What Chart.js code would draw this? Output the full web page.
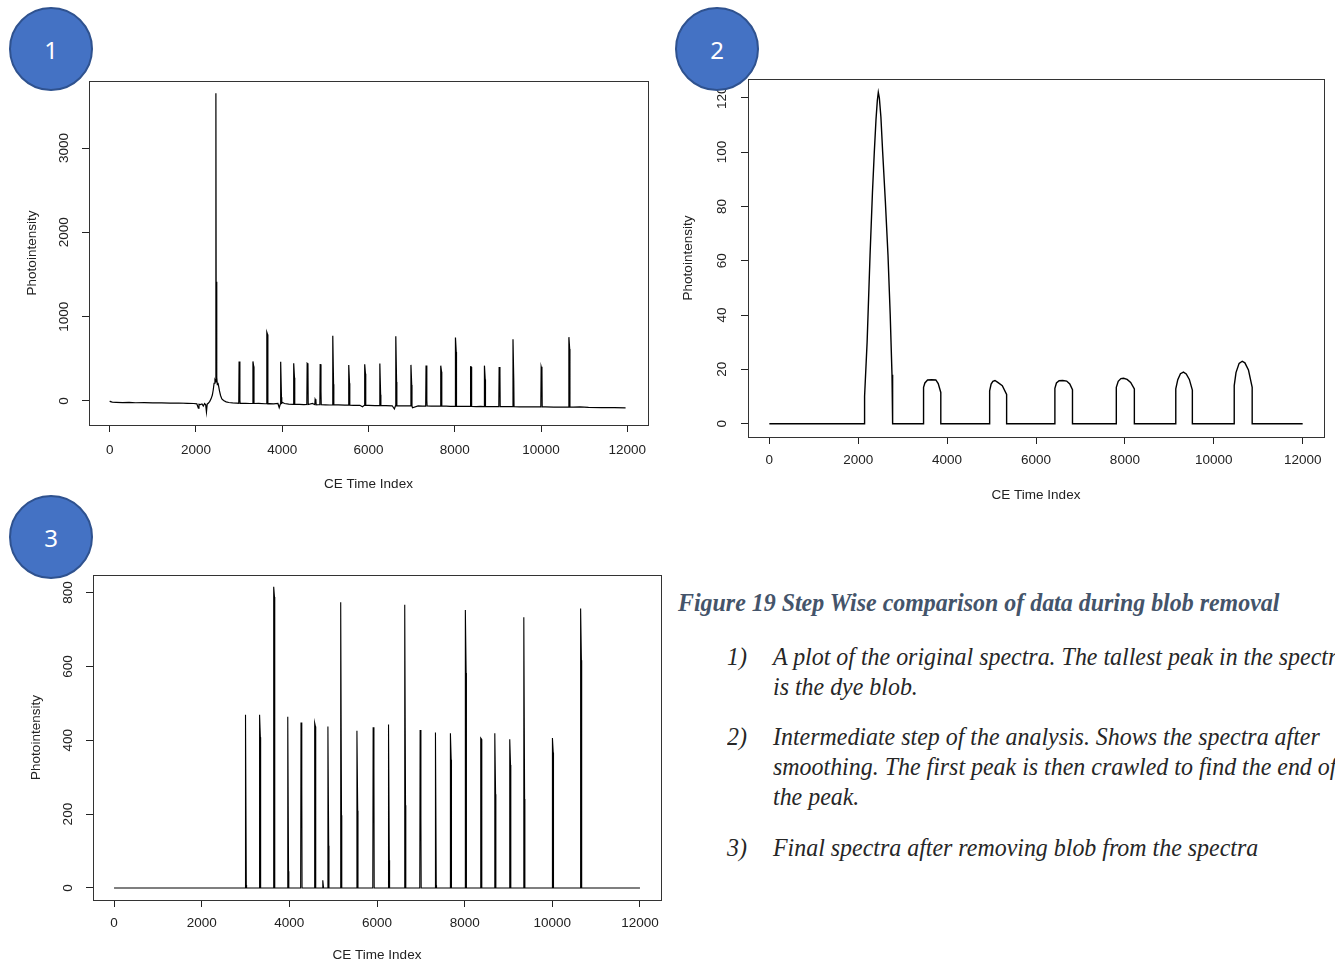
<!DOCTYPE html>
<html lang="en">
<head>
    <meta charset="UTF-8">
    <title>Figure 19 Step Wise comparison of data during blob removal</title>
    <script src="https://cdn.jsdelivr.net/npm/chart.js@4.4.1/dist/chart.umd.min.js"></script>
    <style>
        html, body { margin: 0; padding: 0; width: 1335px; height: 964px; overflow: hidden; background: #fff; }
        canvas { position: absolute; }
        .badge {
            position: absolute; width: 80px; height: 80px; border-radius: 50%;
            background: #4472C4; border: 2px solid #2F528F; color: #fff;
            font: 24px "Noto Sans", sans-serif; display: flex; align-items: center; justify-content: center;
            z-index: 5;
        }
        .t {
            position: absolute; white-space: nowrap; font: italic 26px "Liberation Serif", "Times New Roman", serif;
            line-height: 30px; color: #262626; transform: scaleX(0.92); transform-origin: 0 0;
        }
        .cap { font-weight: bold; color: #44546A; }
    </style>
</head>
<body>
    <canvas id="plot1" width="660" height="430" style="left:0px;top:70px"></canvas>
    <canvas id="plot2" width="670" height="460" style="left:665px;top:60px"></canvas>
    <canvas id="plot3" width="670" height="404" style="left:0px;top:560px"></canvas>

    <div class="badge" style="left:9px;top:7px">1</div>
    <div class="badge" style="left:675px;top:7px">2</div>
    <div class="badge" style="left:9px;top:495px">3</div>

    <div class="t cap" style="left:678px;top:588px">Figure 19 Step Wise comparison of data during blob removal</div>
    <div class="t" style="left:727px;top:642px">1)</div>
    <div class="t" style="left:773px;top:642px">A plot of the original spectra. The tallest peak in the spectra</div>
    <div class="t" style="left:773px;top:672px">is the dye blob.</div>
    <div class="t" style="left:727px;top:722px">2)</div>
    <div class="t" style="left:773px;top:722px">Intermediate step of the analysis. Shows the spectra after</div>
    <div class="t" style="left:773px;top:752px">smoothing. The first peak is then crawled to find the end of</div>
    <div class="t" style="left:773px;top:782px">the peak.</div>
    <div class="t" style="left:727px;top:833px">3)</div>
    <div class="t" style="left:773px;top:833px">Final spectra after removing blob from the spectra</div>

    <script>
        // Tick labels
        const xTicks = [0, 2000, 4000, 6000, 8000, 10000, 12000];
        const yTicks1 = [0, 1000, 2000, 3000];
        const yTicks2 = [0, 20, 40, 60, 80, 100, 120];
        const yTicks3 = [0, 200, 400, 600, 800];

        // Fragment peaks (shared by plot 1 and plot 3)
        const peakX = [3000, 3321, 3643, 3964, 4266, 4578, 4763, 4880, 5172, 5542, 5912, 6263,
                       6633, 6984, 7334, 7675, 8016, 8367, 8688, 9029, 9350, 10003, 10646];
        const peakTop = [469, 469, 816, 464, 448, 447, 21, 437, 774, 426, 435, 443,
                         767, 428, 421, 419, 753, 406, 419, 403, 733, 406, 757];
        const peakShoulder = [8, 408, 788, 45, 274, 437, 0, 114, 197, 209, 324, 75,
                              224, 190, 7, 347, 582, 403, 254, 333, 241, 367, 617];
        // baseline level under each peak in the raw spectrum (plot 1)
        const peakBase1 = [-28, -30, -33, -36, -40, -42, -44, -45, -47, -50, -52, -55,
                           -57, -58, -60, -61, -63, -64, -66, -67, -68, -71, -74];

        // Raw spectrum baseline (plot 1)
        const baseX1 = [0, 20, 60, 150, 300, 450, 600, 800, 1000, 1200, 1400, 1600, 1800, 1950, 2020, 2055,
                        2070, 2100, 2140, 2170, 2200, 2225, 2243, 2260, 2290, 2760, 2850, 2950, 3150, 3250,
                        3450, 3600, 3700, 3800, 3900, 3930, 3990, 4050, 4150, 4400, 4500, 4700, 4800, 5000,
                        5100, 5300, 5450, 5650, 5800, 5860, 6000, 6150, 6400, 6550, 6600, 6700, 6900, 7020,
                        7150, 7250, 7450, 7600, 7800, 7900, 8150, 8300, 8500, 8600, 8800, 8950, 9150, 9300,
                        9500, 9700, 9900, 10100, 10300, 10500, 10600, 10750, 10900, 11100, 11400, 11700, 11960];
        const baseY1 = [0, -8, -14, -16, -19, -17, -21, -20, -23, -22, -25, -24, -28, -30, -34, -85,
                        -38, -42, -35, -60, -30, -45, -130, -38, -25, -18, -22, -25, -27, -30,
                        -29, -33, -31, -35, -30, -80, -12, -30, -38, -40, -43, -30, -45, -46,
                        -48, -47, -50, -52, -51, -68, -53, -55, -56, -57, -95, -57, -58, -80,
                        -59, -60, -61, -60, -62, -63, -63, -64, -66, -65, -67, -66, -68, -68,
                        -69, -70, -71, -71, -72, -73, -74, -74, -70, -76, -78, -80, -83];

        // Dye blob in the raw spectrum (plot 1)
        const blobX1 = [2320, 2350, 2380, 2400, 2420, 2440, 2455, 2462, 2470, 2478, 2486, 2495,
                        2510, 2525, 2545, 2570, 2600, 2640, 2700];
        const blobY1 = [-5, 25, 70, 130, 210, 245, 225, 3650, 420, 1415, 280, 195,
                        215, 175, 120, 65, 25, 5, -10];

        // Smoothed spectrum (plot 2)
        const smoothX = [0, 2143, 2143, 2200, 2266, 2320, 2362, 2400, 2430, 2452, 2475, 2510, 2550, 2610,
                         2670, 2720, 2760, 2774, 2774,
                         3470, 3470, 3500, 3560, 3650, 3746, 3800, 3858, 3858,
                         4957, 4957, 4990, 5030, 5077, 5140, 5242, 5339, 5339,
                         6425, 6425, 6460, 6520, 6600, 6690, 6760, 6821, 6821,
                         7807, 7807, 7850, 7910, 7970, 8050, 8130, 8213, 8213,
                         9145, 9145, 9190, 9250, 9317, 9380, 9450, 9518, 9518,
                         10460, 10460, 10500, 10570, 10640, 10700, 10780, 10864, 10864, 12000];
        const smoothY = [0, 0, 10, 30, 62, 85, 100, 112, 119, 122, 120, 113, 100, 82,
                         62, 40, 18, 10, 0,
                         0, 13.4, 15.0, 16.1, 16.2, 16.1, 14.8, 11.5, 0,
                         0, 12.1, 14.6, 15.6, 15.9, 15.2, 14.0, 10.8, 0,
                         0, 13.0, 15.0, 15.8, 15.9, 15.7, 14.6, 12.5, 0,
                         0, 13.4, 15.6, 16.6, 16.7, 16.3, 15.2, 12.8, 0,
                         0, 12.8, 16.2, 18.4, 19.0, 18.3, 16.3, 12.4, 0,
                         0, 14.0, 18.8, 22.2, 23.0, 22.4, 19.8, 13.4, 0, 0];

        function byX(a, b) { return a.x - b.x; }

        function rawPoints() {
            const pts = [];
            baseX1.forEach((x, i) => pts.push({ x: x, y: baseY1[i] }));
            blobX1.forEach((x, i) => pts.push({ x: x, y: blobY1[i] }));
            peakX.forEach((x, i) => {
                const b = peakBase1[i];
                pts.push({ x: x - 8, y: b }, { x: x, y: Math.max(peakTop[i], b) },
                         { x: x + 18, y: Math.max(peakShoulder[i], b) }, { x: x + 24, y: b });
            });
            return pts.sort(byX);
        }

        function cleanPoints() {
            const pts = [{ x: 0, y: 0 }, { x: 12000, y: 0 }];
            peakX.forEach((x, i) => {
                pts.push({ x: x - 8, y: 0 }, { x: x, y: peakTop[i] },
                         { x: x + 18, y: peakShoulder[i] }, { x: x + 24, y: 0 });
            });
            return pts.sort(byX);
        }

        const smoothPoints = smoothX.map((x, i) => ({ x: x, y: smoothY[i] }));

        // R style frame + rotated y tick labels
        const FONT = '"Liberation Sans", Arial, sans-serif';
        const INK = '#222';
        const rFrame = {
            id: 'rframe',
            afterDraw(chart, args, opts) {
                const { ctx, chartArea: a, scales } = chart;
                ctx.save();
                ctx.strokeStyle = '#333';
                ctx.lineWidth = 1;
                ctx.strokeRect(Math.round(a.left) + 0.5, Math.round(a.top) + 0.5,
                               Math.round(a.right - a.left), Math.round(a.bottom - a.top));
                ctx.fillStyle = INK;
                ctx.font = '13.5px ' + FONT;
                ctx.textAlign = 'center';
                ctx.textBaseline = 'middle';
                scales.y.ticks.forEach(t => {
                    const py = scales.y.getPixelForValue(t.value);
                    ctx.save();
                    ctx.translate(a.left - opts.off, py);
                    ctx.rotate(-Math.PI / 2);
                    ctx.fillText(String(t.value), 0, 0);
                    ctx.restore();
                });
                ctx.restore();
            }
        };

        function rChart(id, points, c) {
            return new Chart(document.getElementById(id), {
                type: 'line',
                data: {
                    datasets: [{
                        data: points,
                        borderColor: '#000',
                        borderWidth: c.lw,
                        pointRadius: 0,
                        tension: 0,
                        fill: false
                    }]
                },
                plugins: [rFrame],
                options: {
                    responsive: false,
                    animation: false,
                    events: [],
                    layout: { padding: { left: 0, top: c.top, right: c.right, bottom: 0 } },
                    plugins: {
                        legend: { display: false },
                        tooltip: { enabled: false },
                        rframe: { off: c.labelOff }
                    },
                    scales: {
                        x: {
                            type: 'linear',
                            min: -480,
                            max: 12480,
                            afterBuildTicks: s => { s.ticks = xTicks.map(v => ({ value: v })); },
                            afterFit: s => { s.height = c.xH; },
                            grid: { drawOnChartArea: false, drawTicks: true, tickLength: 7, color: INK },
                            border: { display: true, color: INK },
                            ticks: { autoSkip: false, maxRotation: 0, padding: c.tickPad, color: INK,
                                     callback: v => String(v),
                                     font: { family: FONT, size: 13.5 } },
                            title: { display: true, text: 'CE Time Index', color: INK,
                                     font: { family: FONT, size: 13.5 }, padding: { top: 0, bottom: c.xTitlePad } }
                        },
                        y: {
                            type: 'linear',
                            min: c.yMin,
                            max: c.yMax,
                            afterBuildTicks: s => { s.ticks = c.yTicks.map(v => ({ value: v })); },
                            afterFit: s => { s.width = c.yW; },
                            grid: { drawOnChartArea: false, drawTicks: true, tickLength: 7, color: INK },
                            border: { display: true, color: INK },
                            ticks: { display: false },
                            title: { display: true, text: 'Photointensity', color: INK,
                                     font: { family: FONT, size: 13.5 }, padding: { top: c.yTitlePad, bottom: 0 } }
                        }
                    }
                }
            });
        }

        rChart('plot1', rawPoints(), {
            top: 11, right: 12, xH: 75, yW: 89, yMin: -285, yMax: 3795, yTicks: yTicks1,
            tickPad: 10, xTitlePad: 8, yTitlePad: 24, labelOff: 25, lw: 1.2
        });
        rChart('plot2', smoothPoints, {
            top: 19, right: 11, xH: 83, yW: 83, yMin: -4.9, yMax: 126.9, yTicks: yTicks2,
            tickPad: 8, xTitlePad: 17, yTitlePad: 15, labelOff: 26, lw: 1.4
        });
        rChart('plot3', cleanPoints(), {
            top: 15, right: 9, xH: 64, yW: 93, yMin: -32.6, yMax: 847.6, yTicks: yTicks3,
            tickPad: 8, xTitlePad: 1, yTitlePad: 28, labelOff: 25, lw: 1.1
        });
    </script>
</body>
</html>
